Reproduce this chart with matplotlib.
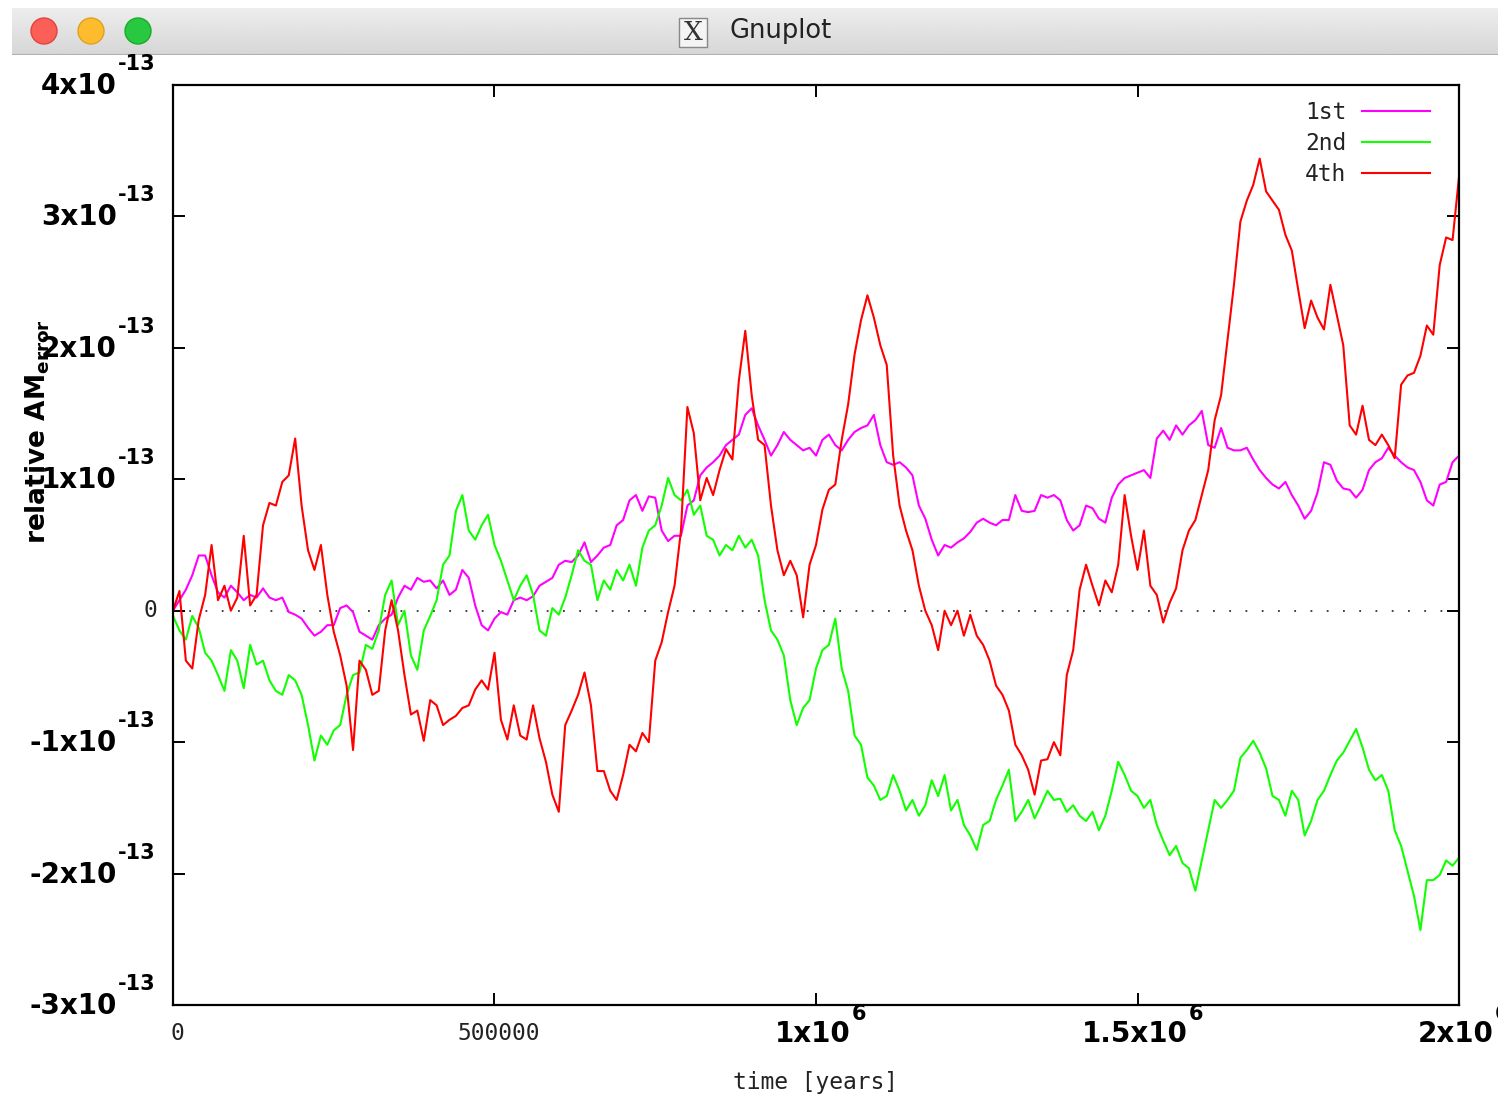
import matplotlib
matplotlib.use("Agg")
import matplotlib.pyplot as plt
import matplotlib.transforms as mtransforms
import numpy as np
from matplotlib.patches import Circle, Rectangle

# time grid in years, one sample every 10000 years
years = np.arange(201) * 1.0e4

# relative AM error, in units of 1e-13
first = [0.00, 0.08, 0.16, 0.27, 0.42, 0.42, 0.27, 0.14, 0.10, 0.19,
         0.14, 0.08, 0.12, 0.10, 0.17, 0.10, 0.08, 0.10, -0.01, -0.03,
         -0.06, -0.13, -0.19, -0.16, -0.11, -0.11, 0.02, 0.04, -0.01, -0.16,
         -0.19, -0.22, -0.11, -0.06, -0.03, 0.10, 0.19, 0.16, 0.25, 0.22,
         0.23, 0.17, 0.23, 0.12, 0.16, 0.31, 0.25, 0.04, -0.11, -0.15,
         -0.06, -0.01, -0.03, 0.08, 0.10, 0.08, 0.11, 0.19, 0.22, 0.25,
         0.35, 0.38, 0.37, 0.42, 0.52, 0.37, 0.42, 0.48, 0.50, 0.65,
         0.69, 0.84, 0.88, 0.76, 0.87, 0.86, 0.61, 0.53, 0.57, 0.57,
         0.80, 0.84, 1.03, 1.09, 1.13, 1.18, 1.26, 1.30, 1.34, 1.49,
         1.54, 1.41, 1.30, 1.18, 1.26, 1.36, 1.30, 1.26, 1.22, 1.24,
         1.18, 1.30, 1.34, 1.26, 1.22, 1.30, 1.36, 1.39, 1.41, 1.49,
         1.26, 1.13, 1.11, 1.13, 1.09, 1.03, 0.80, 0.70, 0.54, 0.42,
         0.50, 0.48, 0.52, 0.55, 0.60, 0.67, 0.70, 0.67, 0.65, 0.69,
         0.69, 0.88, 0.76, 0.75, 0.76, 0.88, 0.86, 0.88, 0.84, 0.69,
         0.61, 0.65, 0.80, 0.78, 0.70, 0.67, 0.86, 0.96, 1.01, 1.03,
         1.05, 1.07, 1.01, 1.31, 1.37, 1.30, 1.41, 1.34, 1.41, 1.45,
         1.52, 1.26, 1.24, 1.39, 1.24, 1.22, 1.22, 1.24, 1.15, 1.07,
         1.01, 0.96, 0.93, 0.98, 0.88, 0.80, 0.70, 0.76, 0.90, 1.13,
         1.11, 0.99, 0.93, 0.92, 0.86, 0.92, 1.07, 1.13, 1.16, 1.24,
         1.18, 1.13, 1.09, 1.07, 0.98, 0.84, 0.80, 0.96, 0.98, 1.13,
         1.18]

second = [-0.04, -0.15, -0.22, -0.04, -0.13, -0.32, -0.38, -0.49, -0.61, -0.30,
          -0.38, -0.59, -0.26, -0.41, -0.38, -0.53, -0.61, -0.64, -0.49, -0.53,
          -0.64, -0.87, -1.14, -0.95, -1.02, -0.91, -0.87, -0.64, -0.49, -0.47,
          -0.26, -0.29, -0.15, 0.12, 0.23, -0.11, 0.00, -0.34, -0.45, -0.15,
          -0.04, 0.08, 0.35, 0.42, 0.76, 0.88, 0.61, 0.54, 0.65, 0.73,
          0.50, 0.38, 0.23, 0.08, 0.19, 0.27, 0.12, -0.15, -0.19, 0.02,
          -0.03, 0.10, 0.27, 0.46, 0.38, 0.35, 0.08, 0.23, 0.16, 0.31,
          0.23, 0.35, 0.19, 0.48, 0.61, 0.65, 0.80, 1.01, 0.88, 0.84,
          0.92, 0.73, 0.80, 0.57, 0.54, 0.42, 0.50, 0.46, 0.57, 0.48,
          0.54, 0.42, 0.08, -0.15, -0.22, -0.34, -0.68, -0.87, -0.74, -0.68,
          -0.44, -0.30, -0.26, -0.06, -0.44, -0.61, -0.95, -1.02, -1.27, -1.33,
          -1.44, -1.41, -1.25, -1.37, -1.52, -1.44, -1.56, -1.48, -1.29, -1.41,
          -1.25, -1.52, -1.44, -1.63, -1.71, -1.82, -1.63, -1.60, -1.44, -1.33,
          -1.21, -1.60, -1.53, -1.44, -1.58, -1.48, -1.37, -1.44, -1.43, -1.53,
          -1.48, -1.56, -1.60, -1.53, -1.67, -1.56, -1.37, -1.15, -1.25, -1.37,
          -1.41, -1.50, -1.44, -1.63, -1.75, -1.86, -1.79, -1.92, -1.96, -2.13,
          -1.90, -1.67, -1.44, -1.50, -1.44, -1.37, -1.12, -1.06, -0.99, -1.08,
          -1.20, -1.41, -1.44, -1.56, -1.37, -1.44, -1.71, -1.60, -1.44, -1.37,
          -1.25, -1.14, -1.08, -0.99, -0.90, -1.04, -1.21, -1.29, -1.25, -1.37,
          -1.67, -1.79, -1.98, -2.17, -2.43, -2.05, -2.05, -2.01, -1.90, -1.94,
          -1.88]

fourth = [0.00, 0.15, -0.38, -0.44, -0.07, 0.12, 0.50, 0.08, 0.19, 0.00,
          0.10, 0.57, 0.04, 0.12, 0.65, 0.82, 0.80, 0.98, 1.03, 1.31,
          0.80, 0.46, 0.31, 0.50, 0.12, -0.16, -0.34, -0.57, -1.06, -0.38,
          -0.45, -0.64, -0.61, -0.15, 0.08, -0.15, -0.49, -0.79, -0.76, -0.99,
          -0.68, -0.72, -0.87, -0.83, -0.80, -0.74, -0.72, -0.60, -0.53, -0.60,
          -0.32, -0.83, -0.98, -0.72, -0.95, -0.98, -0.72, -0.97, -1.15, -1.40,
          -1.53, -0.87, -0.76, -0.64, -0.47, -0.72, -1.22, -1.22, -1.37, -1.44,
          -1.25, -1.02, -1.07, -0.93, -1.00, -0.38, -0.24, -0.01, 0.19, 0.61,
          1.55, 1.35, 0.84, 1.01, 0.88, 1.07, 1.23, 1.15, 1.75, 2.13,
          1.64, 1.30, 1.26, 0.80, 0.46, 0.27, 0.38, 0.27, -0.05, 0.35,
          0.50, 0.77, 0.92, 0.96, 1.30, 1.57, 1.95, 2.21, 2.40, 2.23,
          2.02, 1.87, 1.18, 0.80, 0.61, 0.46, 0.19, 0.00, -0.11, -0.30,
          0.00, -0.11, 0.00, -0.19, -0.03, -0.19, -0.26, -0.38, -0.57, -0.64,
          -0.76, -1.02, -1.10, -1.21, -1.40, -1.14, -1.13, -1.00, -1.10, -0.49,
          -0.30, 0.16, 0.35, 0.19, 0.04, 0.23, 0.14, 0.35, 0.88, 0.57,
          0.31, 0.61, 0.19, 0.12, -0.09, 0.06, 0.17, 0.46, 0.61, 0.69,
          0.88, 1.07, 1.45, 1.64, 2.06, 2.48, 2.96, 3.12, 3.24, 3.44,
          3.19, 3.12, 3.05, 2.86, 2.74, 2.44, 2.15, 2.36, 2.23, 2.14,
          2.48, 2.25, 2.02, 1.41, 1.34, 1.56, 1.30, 1.26, 1.34, 1.26,
          1.16, 1.72, 1.79, 1.81, 1.94, 2.17, 2.10, 2.63, 2.84, 2.82,
          3.30]

series_names = ["1st", "2nd", "4th"]
series_colors = ["#ff00ff", "#11ff00", "#ff0000"]

# tick labels: (position, mantissa text, exponent text)
xticks = [0, 5e5, 1e6, 1.5e6, 2e6]
xtick_main = ["0", "500000", "1x10", "1.5x10", "2x10"]
xtick_exp = ["", "", "6", "6", "6"]
yticks = [-3e-13, -2e-13, -1e-13, 0, 1e-13, 2e-13, 3e-13, 4e-13]
ytick_main = ["-3x10", "-2x10", "-1x10", "0", "1x10", "2x10", "3x10", "4x10"]
ytick_exp = ["-13", "-13", "-13", "", "-13", "-13", "-13", "-13"]

MONO = "DejaVu Sans Mono"
W, H = 1498, 1094
fig = plt.figure(figsize=(W / 100, H / 100), dpi=100)
fig.patch.set_facecolor("white")

# window title bar
bar = fig.add_axes([12 / W, 1 - 55 / H, (W - 12) / W, 47 / H])
bar.imshow(np.linspace(0.93, 0.84, 50)[:, None], cmap="gray", vmin=0, vmax=1,
           aspect="auto", extent=[12, W, 55, 8])
bar.set_xlim(12, W)
bar.set_ylim(55, 8)
bar.axis("off")
bar.axhline(54.5, color="#b0b0b0", lw=1.5)
for cx, fc, ec in [(44, "#fc5f57", "#e0443e"), (91, "#fdbc2e", "#dea123"), (138, "#28c840", "#1aab29")]:
    bar.add_patch(Circle((cx, 31), 13, facecolor=fc, edgecolor=ec, lw=1))
bar.add_patch(Rectangle((679, 18), 28, 29, facecolor="#f4f4f4", edgecolor="#888888", lw=1))
bar.text(693, 33, "X", ha="center", va="center", fontsize=19, family="DejaVu Serif", color="#333333")
bar.text(781, 31, "Gnuplot", ha="center", va="center", fontsize=18.5, color="#222222")

# plot area
ax = fig.add_axes([173 / W, 1 - 1005 / H, 1286 / W, 920 / H])
for vals, name, col in zip([first, second, fourth], series_names, series_colors):
    ax.plot(years, np.array(vals) * 1e-13, color=col, lw=1.5, label=name)

ax.axhline(0, color="#333333", lw=1.3, ls=(0, (1, 8)), zorder=0)
ax.set_xlim(0, 2e6)
ax.set_ylim(-3e-13, 4e-13)

ax.set_xticks(xticks, [""] * len(xticks))
ax.set_yticks(yticks, [""] * len(yticks))
ax.tick_params(direction="in", length=8.5, width=1.4, top=True, right=True)
for sp in ax.spines.values():
    sp.set_linewidth(1.6)

# gnuplot-style labels: bold mantissa with raised exponent, plain mono for the rest
xtr = ax.get_xaxis_transform()
ytr = ax.get_yaxis_transform()
for pos, main, exp in zip(xticks, xtick_main, xtick_exp):
    if exp:
        tr = mtransforms.offset_copy(xtr, fig, x=-3, y=-29, units="dots")
        t = ax.text(pos, 0, main, transform=tr, ha="center", va="center",
                    fontsize=20, fontweight="bold")
        ax.annotate(exp, xy=(1, 1), xycoords=t, xytext=(1, 6), textcoords="offset pixels",
                    ha="left", va="center", fontsize=15, fontweight="bold")
    else:
        tr = mtransforms.offset_copy(xtr, fig, x=4, y=-29, units="dots")
        ax.text(pos, 0, main, transform=tr, ha="center", va="center",
                fontsize=16.5, family=MONO, color="#222222")

for pos, main, exp in zip(yticks, ytick_main, ytick_exp):
    if exp:
        tr = mtransforms.offset_copy(ytr, fig, x=-56, y=-1, units="dots")
        t = ax.text(0, pos, main, transform=tr, ha="right", va="center",
                    fontsize=20, fontweight="bold")
        ax.annotate(exp, xy=(1, 1), xycoords=t, xytext=(1, 8), textcoords="offset pixels",
                    ha="left", va="center", fontsize=15, fontweight="bold")
    else:
        tr = mtransforms.offset_copy(ytr, fig, x=-16, y=0, units="dots")
        ax.text(0, pos, main, transform=tr, ha="right", va="center",
                fontsize=16.5, family=MONO, color="#222222")

ax.set_xlabel("time [years]", family=MONO, fontsize=16.5, color="#222222", labelpad=44)
ax.set_ylabel(r"relative AM$_{\mathbf{error}}$", fontsize=19, fontweight="bold")
ax.yaxis.set_label_coords(-0.094, 0.623)

leg = ax.legend(loc="upper right", bbox_to_anchor=(1 - 29 / 1286, 1 - 16 / 920),
                frameon=False, markerfirst=False, handlelength=2.95, handletextpad=0.7,
                labelspacing=0.35, borderpad=0, borderaxespad=0,
                prop={"family": MONO, "size": 16.5})
for t in leg.get_texts():
    t.set_color("#222222")

fig.savefig("out.png", dpi=100)
